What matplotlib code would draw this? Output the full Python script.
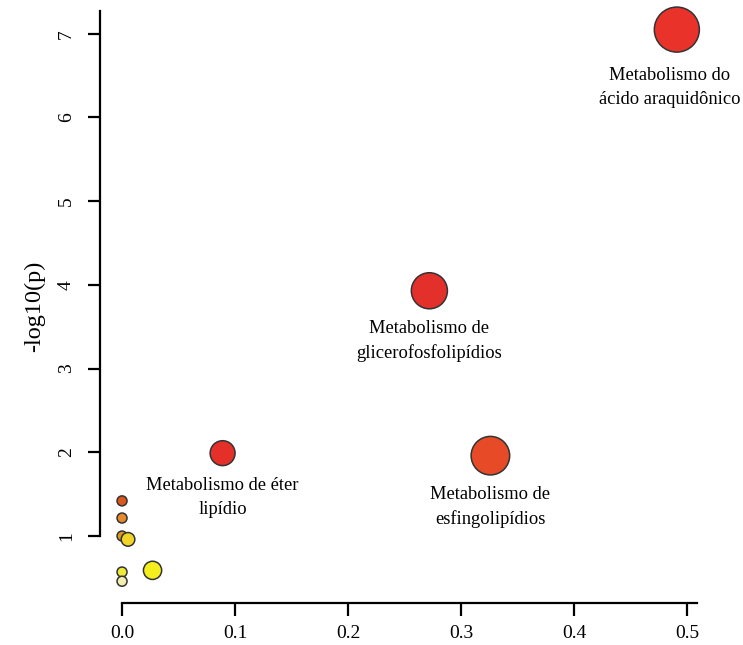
import numpy as np
import matplotlib
matplotlib.use("Agg")
import matplotlib.pyplot as plt

plt.rcParams['font.family'] = ['Liberation Serif', 'DejaVu Serif']

# Pathway impact vs. significance
impact = [0.491, 0.272, 0.326, 0.089, 0.0, 0.0, 0.0, 0.0053, 0.027, 0.0, 0.0]
neglogp = [7.05, 3.93, 1.96, 1.99, 1.42, 1.215, 1.00, 0.96, 0.59, 0.57, 0.46]
names = [
    "Metabolismo do\nácido araquidônico",
    "Metabolismo de\nglicerofosfolipídios",
    "Metabolismo de\nesfingolipídios",
    "Metabolismo de éter\nlipídio",
    "", "", "", "", "", "", "",
]
fill_colors = ["#e8322a", "#e4302a", "#e64a26", "#e5302a", "#dd561e", "#e6892a",
               "#d99a1a", "#f0d428", "#f5ee1e", "#efe93a", "#f2efb0"]

W, H, DPI = 743, 645, 100
fig = plt.figure(figsize=(W / DPI, H / DPI), dpi=DPI)
ax = fig.add_axes([100 / W, 42 / H, 600 / W, 593 / H])
ax.set_xlim(-0.0195, 0.5115)
ax.set_ylim(0.2, 7.284)

imp = np.array(impact)
radius_px = 5 + 25 * np.sqrt(imp)
sizes = (2 * radius_px * 72 / DPI) ** 2

ax.scatter(impact, neglogp, s=sizes, c=fill_colors, edgecolors="#333333",
           linewidths=1.1, zorder=3, clip_on=False)

for x, y, r, name in zip(impact, neglogp, radius_px, names):
    if not name:
        continue
    dx = -7 if x > 0.45 else 0
    dy = 4 if x > 0.45 else 0
    ax.annotate(name, (x, y), xytext=(dx, -(r + 11 + dy)), textcoords="offset pixels",
                ha="center", va="top", fontsize=13.3, linespacing=1.55,
                multialignment="center")

for side in ("top", "right"):
    ax.spines[side].set_visible(False)
for side in ("left", "bottom"):
    ax.spines[side].set_linewidth(1.6)
ax.spines["left"].set_bounds(1, 7.27)
ax.spines["bottom"].set_bounds(0, 0.509)

ax.set_xticks([0.0, 0.1, 0.2, 0.3, 0.4, 0.5])
ax.set_xticklabels(["0.0", "0.1", "0.2", "0.3", "0.4", "0.5"])
ax.set_yticks([1, 2, 3, 4, 5, 6, 7])
ax.set_yticklabels(["1", "2", "3", "4", "5", "6", "7"], rotation=90, va="center")
ax.tick_params(axis="both", direction="out", length=9, width=1.6, labelsize=14)
ax.tick_params(axis="x", pad=7)
ax.tick_params(axis="y", pad=9)

ax.set_ylabel("-log10(p)", fontsize=17.5, labelpad=9)

fig.savefig("out.png", dpi=DPI)
